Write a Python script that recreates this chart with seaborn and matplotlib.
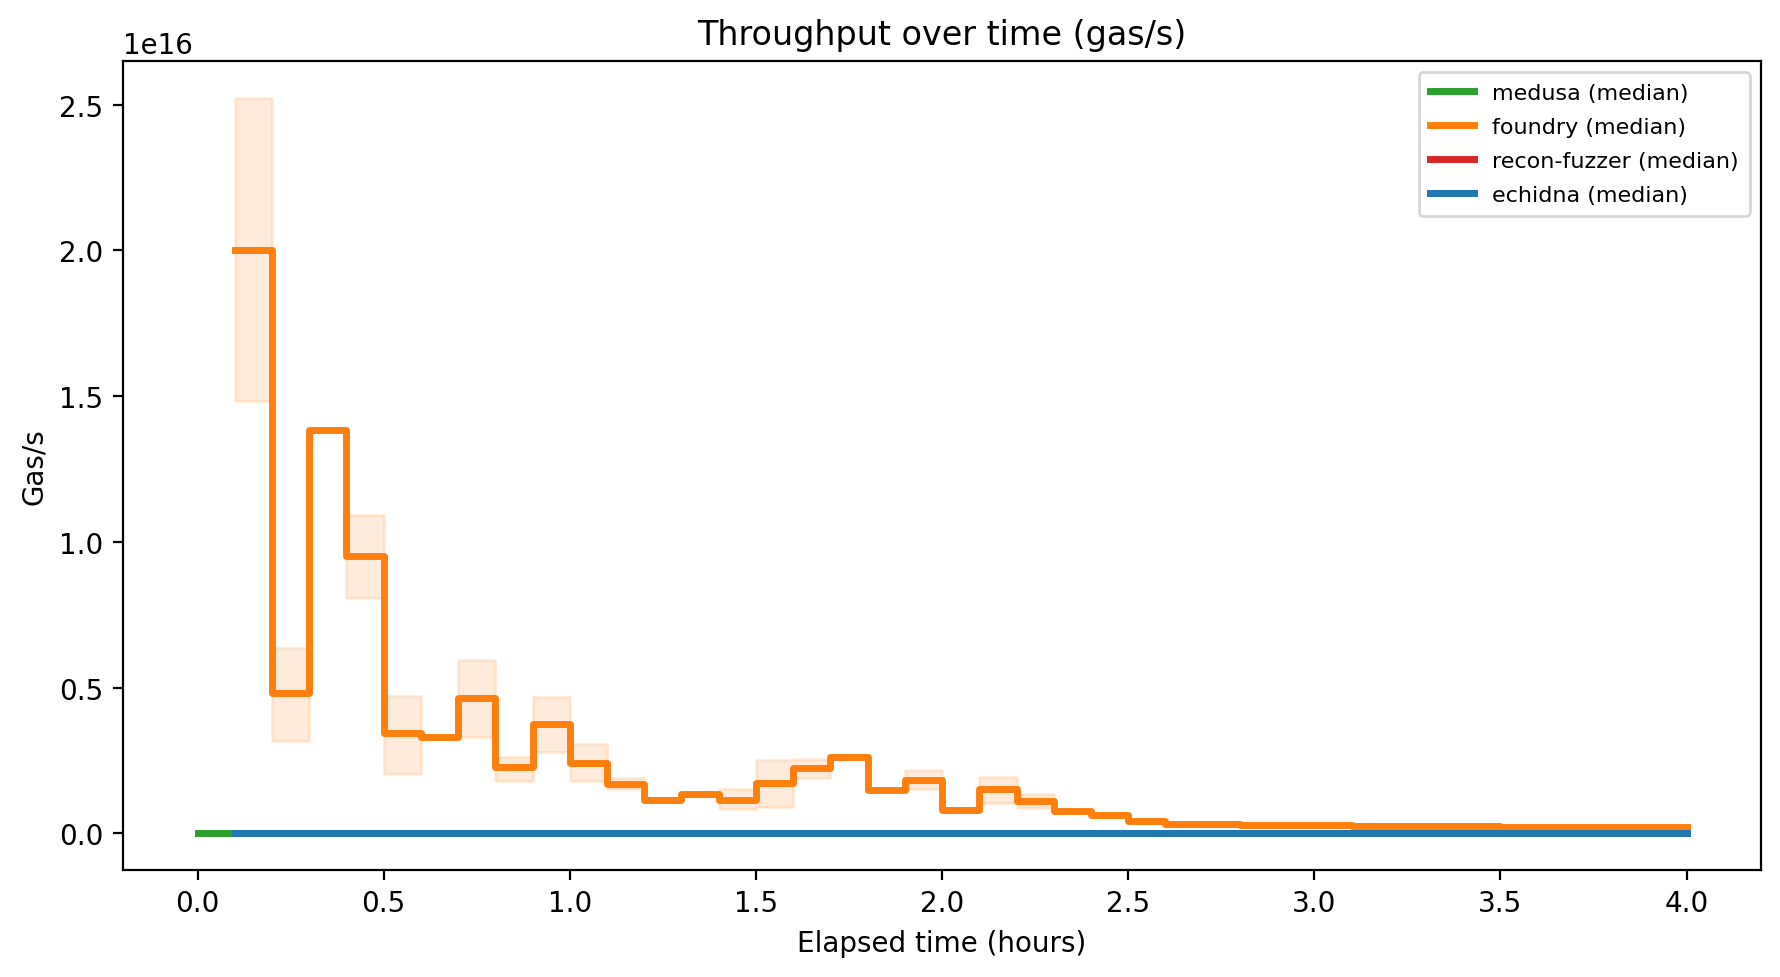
# =========================================
# THROUGHPUT OVER TIME (GAS/S)
# =========================================

import numpy as np
import pandas as pd

import matplotlib
matplotlib.use("Agg")
import matplotlib.pyplot as plt
import seaborn as sns


# =========================================
# DATA (values in units of 1e16 gas/s)
# =========================================

# foundry: bin start times (hours) with median and band per bin
foundry_time = [
    0.1, 0.2, 0.3, 0.4, 0.5, 0.6, 0.7, 0.8, 0.9, 1.0,
    1.1, 1.2, 1.3, 1.4, 1.5, 1.6, 1.7, 1.8, 1.9, 2.0,
    2.1, 2.2, 2.3, 2.4, 2.5, 2.6, 2.8, 3.1, 3.5, 4.0
]
foundry_median = [
    2.00, 0.482, 1.384, 0.952, 0.344, 0.330, 0.463, 0.228, 0.374, 0.242,
    0.170, 0.115, 0.134, 0.115, 0.174, 0.225, 0.260, 0.147, 0.184, 0.081,
    0.151, 0.110, 0.077, 0.061, 0.043, 0.032, 0.029, 0.024, 0.021, 0.021
]
foundry_low = [
    1.482, 0.318, 1.380, 0.807, 0.205, 0.326, 0.331, 0.178, 0.280, 0.179,
    0.153, 0.112, 0.131, 0.082, 0.089, 0.190, 0.257, 0.144, 0.153, 0.078,
    0.105, 0.085, 0.074, 0.058, 0.041, 0.030, 0.027, 0.022, 0.019, 0.019
]
foundry_high = [
    2.524, 0.636, 1.388, 1.093, 0.472, 0.334, 0.593, 0.262, 0.466, 0.307,
    0.190, 0.118, 0.137, 0.151, 0.251, 0.256, 0.263, 0.150, 0.216, 0.084,
    0.193, 0.133, 0.080, 0.064, 0.045, 0.034, 0.031, 0.026, 0.023, 0.023
]

# the other fuzzers stay at zero throughout
medusa_time = [0.0, 0.1, 4.0]
medusa_median = [0.0, 0.0, 0.0]

recon_time = [0.1, 4.0]
recon_median = [0.0, 0.0]

echidna_time = [0.1, 4.0]
echidna_median = [0.0, 0.0]

SCALE = 1e16


# =========================================
# FIGURE
# =========================================

fig = plt.figure(figsize=(1781 / 200, 978 / 200), dpi=200)
ax = fig.add_axes([0.0691, 0.1094, 0.9888 - 0.0691, 0.9366 - 0.1094])

LW = 2.5

medusa = pd.DataFrame({"t": medusa_time, "v": np.array(medusa_median) * SCALE})
foundry = pd.DataFrame({
    "t": foundry_time,
    "v": np.array(foundry_median) * SCALE,
    "lo": np.array(foundry_low) * SCALE,
    "hi": np.array(foundry_high) * SCALE,
})
recon = pd.DataFrame({"t": recon_time, "v": np.array(recon_median) * SCALE})
echidna = pd.DataFrame({"t": echidna_time, "v": np.array(echidna_median) * SCALE})

sns.lineplot(
    data=medusa, x="t", y="v", ax=ax,
    color="#2ca02c", linewidth=LW, drawstyle="steps-post",
    label="medusa (median)", estimator=None
)

ax.fill_between(
    foundry["t"], foundry["lo"], foundry["hi"],
    step="post", color="#ff7f0e", alpha=0.15
)
sns.lineplot(
    data=foundry, x="t", y="v", ax=ax,
    color="#ff7f0e", linewidth=LW, drawstyle="steps-post",
    label="foundry (median)", estimator=None
)

sns.lineplot(
    data=recon, x="t", y="v", ax=ax,
    color="#d62728", linewidth=LW, drawstyle="steps-post",
    label="recon-fuzzer (median)", estimator=None
)

sns.lineplot(
    data=echidna, x="t", y="v", ax=ax,
    color="#1f77b4", linewidth=LW, drawstyle="steps-post",
    label="echidna (median)", estimator=None
)


# =========================================
# LABELS
# =========================================

ax.set_title("Throughput over time (gas/s)", fontsize=12)
ax.set_xlabel("Elapsed time (hours)", fontsize=10)
ax.set_ylabel("Gas/s", fontsize=10)
ax.tick_params(labelsize=10)

ax.legend(loc="upper right", fontsize=8, labelspacing=0.62, borderpad=0.5)

fig.savefig("out.png", dpi=200)
